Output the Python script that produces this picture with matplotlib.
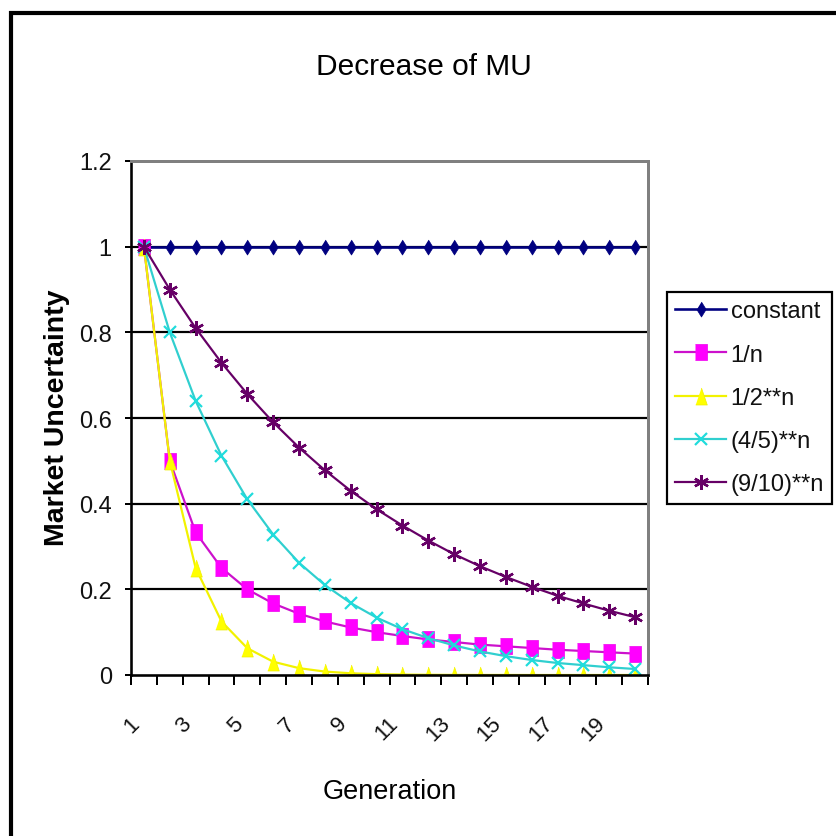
import matplotlib
matplotlib.use("Agg")
import matplotlib.pyplot as plt
from matplotlib.patches import Rectangle

plt.rcParams['font.family'] = ['Liberation Sans', 'DejaVu Sans']

# ---------------- data ----------------
generations = [1, 2, 3, 4, 5, 6, 7, 8, 9, 10, 11, 12, 13, 14, 15, 16, 17, 18, 19, 20]
constant = [1, 1, 1, 1, 1, 1, 1, 1, 1, 1, 1, 1, 1, 1, 1, 1, 1, 1, 1, 1]
inv_n = [1.0, 0.5, 0.333, 0.25, 0.2, 0.167, 0.143, 0.125, 0.111, 0.1,
         0.091, 0.083, 0.077, 0.071, 0.067, 0.063, 0.059, 0.056, 0.053, 0.05]
half_pow = [1.0, 0.5, 0.25, 0.125, 0.0625, 0.031, 0.016, 0.008, 0.004, 0.002,
            0.001, 0.0005, 0.0002, 0.0001, 0.0001, 0.0, 0.0, 0.0, 0.0, 0.0]
four_fifths_pow = [1.0, 0.8, 0.64, 0.512, 0.41, 0.328, 0.262, 0.21, 0.168, 0.134,
                   0.107, 0.086, 0.069, 0.055, 0.044, 0.035, 0.028, 0.023, 0.018, 0.014]
nine_tenths_pow = [1.0, 0.9, 0.81, 0.729, 0.656, 0.59, 0.531, 0.478, 0.43, 0.387,
                   0.349, 0.314, 0.282, 0.254, 0.229, 0.206, 0.185, 0.167, 0.15, 0.135]
series_labels = ['constant', '1/n', '1/2**n', '(4/5)**n', '(9/10)**n']
x_tick_values = [1, 3, 5, 7, 9, 11, 13, 15, 17, 19]
x_tick_labels = ['1', '3', '5', '7', '9', '11', '13', '15', '17', '19']
y_tick_values = [0, 0.2, 0.4, 0.6, 0.8, 1.0, 1.2]
y_tick_labels = ['0', '0.2', '0.4', '0.6', '0.8', '1', '1.2']

# ---------------- figure ----------------
W, H = 836, 837
fig = plt.figure(figsize=(W / 100, H / 100), dpi=100)
fig.patch.set_facecolor('white')

# outer chart border (right/bottom edges are cut off in the reference)
fig.patches.append(Rectangle((10.5 / W, -0.05), 1.2, 1 - 14 / H + 0.05,
                             transform=fig.transFigure, fill=False,
                             edgecolor='black', linewidth=3.0, zorder=0))

left, right, top, bottom = 131, 648, 162, 676
ax = fig.add_axes([left / W, 1 - bottom / H, (right - left) / W, (bottom - top) / H])

px = 0.72  # points per pixel

diamond = [(0, 1), (0.62, 0), (0, -1), (-0.62, 0)]
rect = [(-0.72, -1), (0.72, -1), (0.72, 1), (-0.72, 1)]
tri = [(-0.68, -1), (0.68, -1), (0, 1)]
xmark = [(-0.8, 1), (0.8, -1), (0, 0), (-0.8, -1), (0.8, 1), (0, 0)]

h_const, = ax.plot(generations, constant, color='#000080', lw=2.6 * px,
                   marker=diamond, ms=15 * px, mfc='#000080', mec='#000080', mew=0.5)
h_inv, = ax.plot(generations, inv_n, color='#CC11CC', lw=2.2 * px,
                 marker=rect, ms=16 * px, mfc='#FF00FF', mec='#EE00EE', mew=0.5)
h_half, = ax.plot(generations, half_pow, color='#F2F200', lw=2.2 * px,
                  marker=tri, ms=17 * px, mfc='#FFFF00', mec='#EEEE00', mew=0.5)
h_45, = ax.plot(generations, four_fifths_pow, color='#30CFCF', lw=2.2 * px,
                marker='x', ms=12 * px, mfc='none', mec='#20DCDC', mew=2.2 * px)
h_910, = ax.plot(generations, nine_tenths_pow, color='#660066', lw=2.2 * px,
                 marker=(6, 2, 0), ms=15 * px, mfc='none', mec='#660066', mew=2.4 * px)

ax.set_xlim(0.5, 20.5)
ax.set_ylim(0, 1.2)

# y axis
ax.set_yticks(y_tick_values)
ax.set_yticklabels(y_tick_labels)
ax.tick_params(axis='y', direction='out', length=6 * px, width=2 * px, pad=9.5,
               labelsize=17, labelcolor='#111111', color='black')
ax.yaxis.grid(True, color='black', linewidth=2.2 * px)
ax.get_ygridlines()[-1].set_visible(False)
ax.get_ygridlines()[0].set_visible(False)
ax.set_axisbelow(True)

# x axis: labels at odd categories, tick marks at category boundaries
ax.set_xticks(x_tick_values)
ax.set_xticklabels(x_tick_labels, rotation=45, ha='right', va='top',
                   rotation_mode='default')
ax.set_xticks([g - 0.5 for g in generations] + [generations[-1] + 0.5], minor=True)
ax.tick_params(axis='x', which='major', length=0, pad=27, labelsize=16,
               labelcolor='#111111')
ax.tick_params(axis='x', which='minor', direction='out', length=10 * px,
               width=2 * px, color='black')

for s in ['left', 'bottom']:
    ax.spines[s].set_color('black')
    ax.spines[s].set_linewidth(2.6 * px)
for s in ['top', 'right']:
    ax.spines[s].set_color('#808080')
    ax.spines[s].set_linewidth(3 * px)

# titles
fig.text(424 / W, 1 - 75 / H, 'Decrease of MU', ha='center', va='baseline',
         fontsize=21.5, color='black')
fig.text(390 / W, 1 - 799 / H, 'Generation', ha='center', va='baseline',
         fontsize=19.5, color='black')
fig.text(57 / W, 1 - 418 / H, 'Market Uncertainty', rotation=90, ha='center',
         va='center', fontsize=20.5, fontweight='bold', color='black')

# legend
leg = ax.legend([h_const, h_inv, h_half, h_45, h_910], series_labels,
                loc='upper left', bbox_to_anchor=(667 / W, 1 - 293 / H),
                bbox_transform=fig.transFigure, borderaxespad=0,
                fontsize=17, handlelength=2.15, handletextpad=0.2,
                labelspacing=0.9, borderpad=0.35, fancybox=False,
                frameon=True, framealpha=1, edgecolor='black')
leg.get_frame().set_linewidth(2.2 * px)
for t in leg.get_texts():
    t.set_color('#111111')

fig.savefig('out.png', dpi=100, facecolor='white')
